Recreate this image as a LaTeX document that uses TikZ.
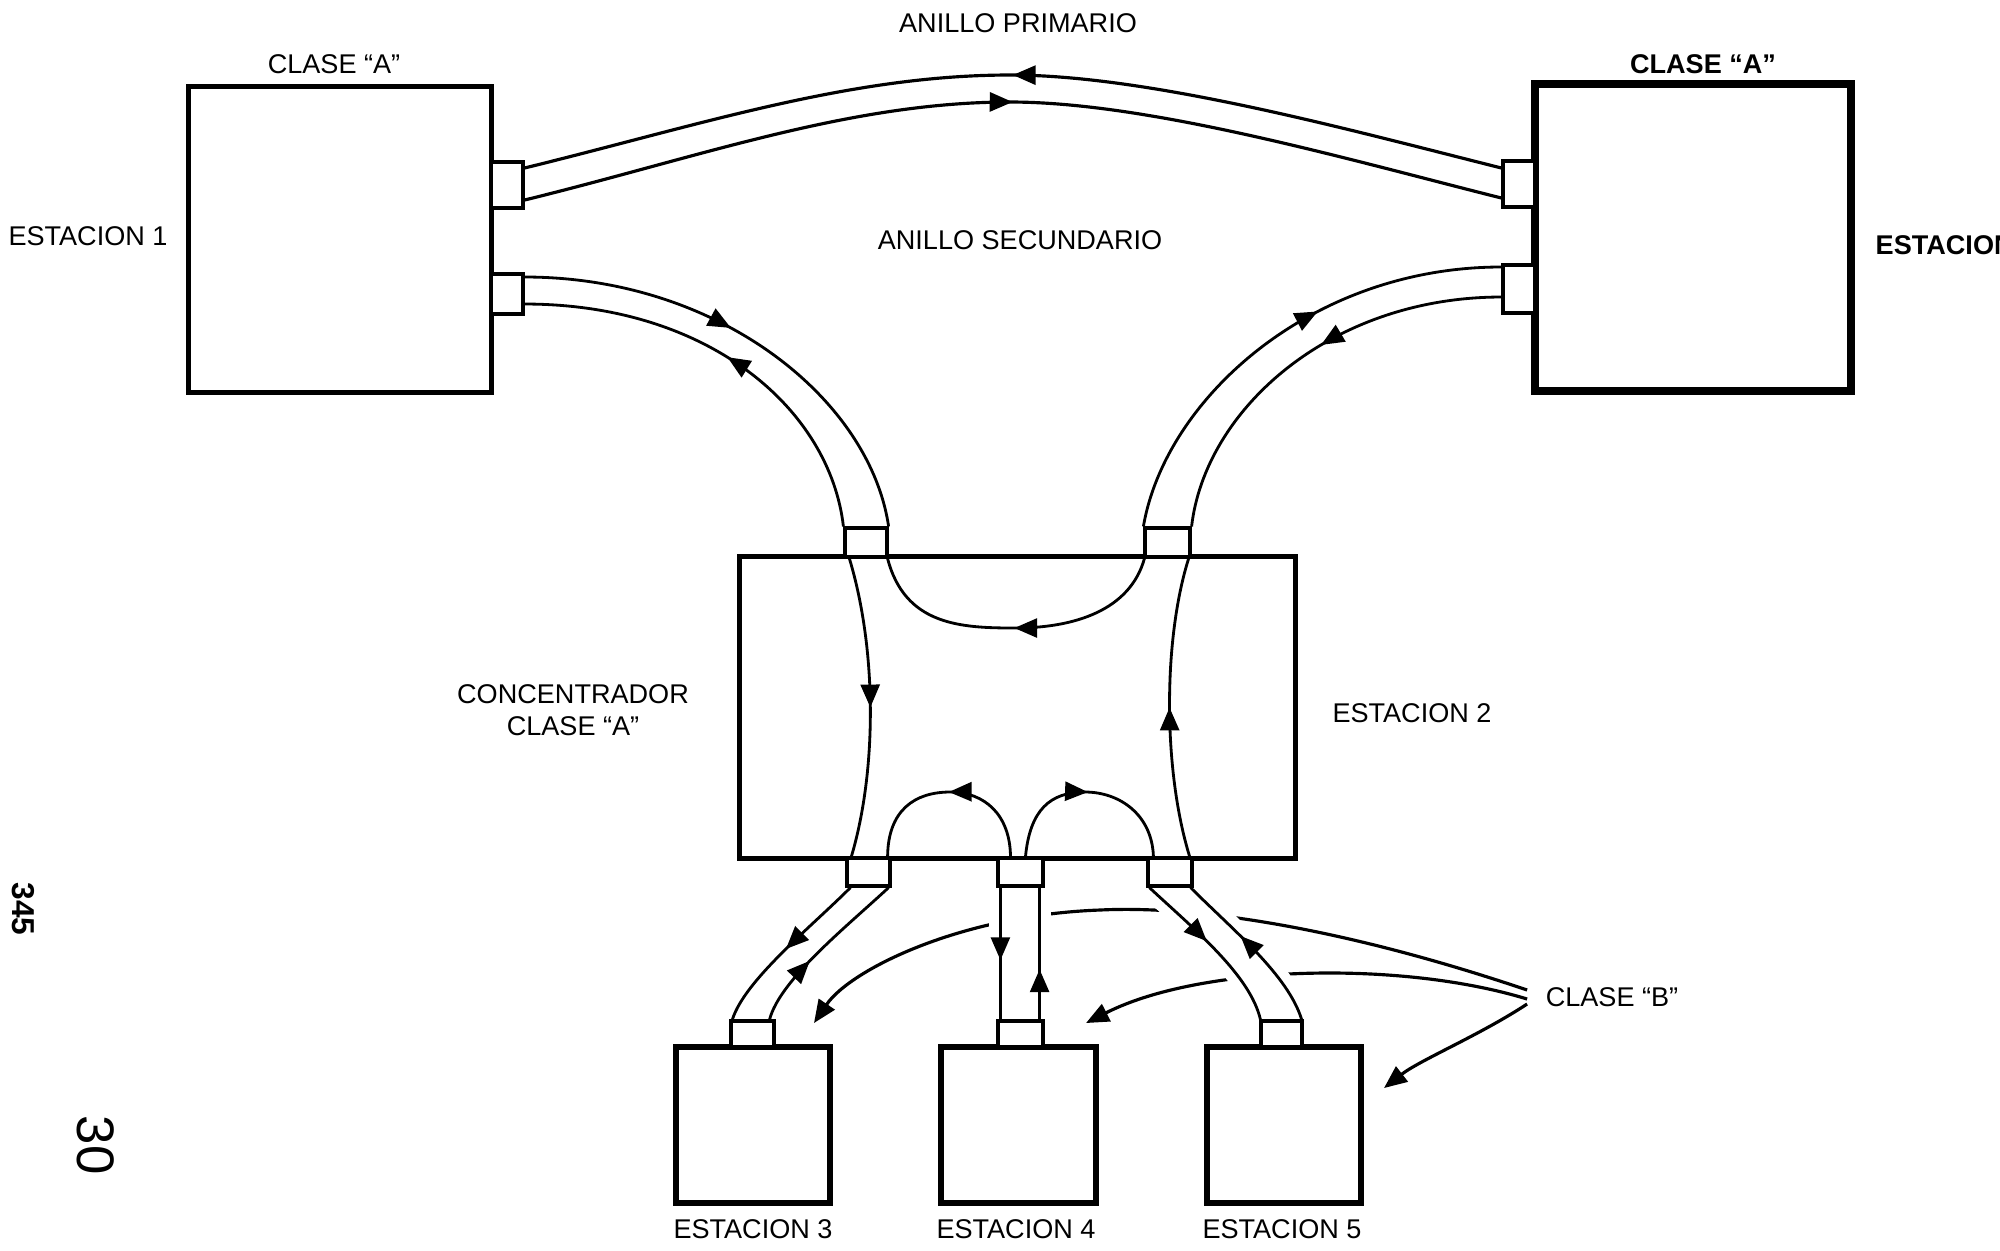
\documentclass[tikz,border=0pt]{standalone}
\usepackage{fontspec}
\setmainfont{Liberation Sans}
\usetikzlibrary{arrows.meta,decorations.markings}
\newcommand\lbfont{\fontsize{7.7}{9.1}\selectfont}
\pgfdeclarelayer{bgcurves}
\pgfdeclarelayer{bgwhite}
\pgfsetlayers{bgcurves,bgwhite,main}
\tikzset{
  box/.style={draw, line width=1.4pt, inner sep=0pt},
  portbox/.style={draw, fill=white, line width=0.9pt, inner sep=0pt},
  ring/.style={line width=0.9pt},
  tube/.style={line width=0.8pt},
  lbl/.style={font=\lbfont, inner sep=0pt, align=center},
  arrowat/.style={postaction={decorate}, decoration={markings, mark=at position #1 with {\arrow{Triangle[length=6.5pt,width=5.4pt]}}}},
  arrowback/.style={postaction={decorate}, decoration={markings, mark=at position #1 with {\arrowreversed{Triangle[length=6.5pt,width=5.4pt]}}}},
  pointer/.style={line width=0.9pt, -{Triangle[length=6.5pt,width=5.4pt]}},
  gapfill/.style={fill=white, draw=white, line width=0.22cm}
}
\begin{document}
\begin{tikzpicture}[x=0.01cm, y=-0.01cm]
\useasboundingbox (0,0) rectangle (2000,1250);
\clip (0,0) rectangle (2000,1250);

% ---------- boxes ----------
\node[box, minimum width=3.02cm, minimum height=3.05cm] (s1) at (340,239.5) {};
\node[box, line width=2.1pt, minimum width=3.16cm, minimum height=3.07cm] (s6) at (1693,237.5) {};
\node[box, minimum width=5.55cm, minimum height=3.01cm] (conc) at (1017.5,707.5) {};
\node[box, line width=1.6pt, minimum width=1.54cm, minimum height=1.56cm] (s3) at (753,1125) {};
\node[box, line width=1.6pt, minimum width=1.55cm, minimum height=1.56cm] (s4) at (1018.5,1125) {};
\node[box, line width=1.6pt, minimum width=1.54cm, minimum height=1.56cm] (s5) at (1284,1125) {};

% ---------- ports ----------
\node[portbox, minimum width=0.32cm, minimum height=0.46cm] (p1a) at (507,185) {};
\node[portbox, minimum width=0.32cm, minimum height=0.40cm] (p1b) at (507,294) {};
\node[portbox, minimum width=0.32cm, minimum height=0.46cm] (p6a) at (1519,184) {};
\node[portbox, minimum width=0.32cm, minimum height=0.48cm] (p6b) at (1519,289) {};
\node[portbox, minimum width=0.42cm, minimum height=0.29cm] (pct) at (866,542.5) {};
\node[portbox, minimum width=0.45cm, minimum height=0.29cm] (pcr) at (1167.5,542.5) {};
\node[portbox, minimum width=0.43cm, minimum height=0.28cm] (pb3) at (868.5,872) {};
\node[portbox, minimum width=0.45cm, minimum height=0.28cm] (pb4) at (1020.5,872) {};
\node[portbox, minimum width=0.44cm, minimum height=0.28cm] (pb5) at (1170,872) {};
\node[portbox, minimum width=0.43cm, minimum height=0.26cm] (ps3) at (752.5,1034) {};
\node[portbox, minimum width=0.45cm, minimum height=0.26cm] (ps4) at (1020.5,1034) {};
\node[portbox, minimum width=0.41cm, minimum height=0.26cm] (ps5) at (1281.5,1034) {};

% ---------- labels ----------
\node[lbl] (lclA1) at (334,64) {CLASE “A”};
\node[lbl] (lprim) at (1018,23) {ANILLO PRIMARIO};
\node[lbl, font=\lbfont\bfseries] (lclA6) at (1703,64) {CLASE “A”};
\node[lbl] (lest1) at (88,236) {ESTACION 1};
\node[lbl] (lsec) at (1020,240) {ANILLO SECUNDARIO};
\node[lbl, font=\lbfont\bfseries, anchor=west] (lest6) at (1875,245) {ESTACION};
\node[lbl] (lconc) at (573,710) {CONCENTRADOR\\CLASE “A”};
\node[lbl] (lest2) at (1412,713) {ESTACION 2};
\node[lbl] (lclB) at (1612,997) {CLASE “B”};
\node[lbl] (lest3) at (753,1229) {ESTACION 3};
\node[lbl] (lest4) at (1016,1229) {ESTACION 4};
\node[lbl] (lest5) at (1282,1229) {ESTACION 5};
\node[rotate=-90, font=\fontsize{9}{10}\selectfont\bfseries, inner sep=0pt] (lpg) at (23,909) {345};
\node[rotate=-90, font=\fontsize{15}{16}\selectfont, inner sep=0pt] (lnum) at (96,1145) {30};

% ---------- CLASE "B" pointers (behind the tubes) ----------
\coordinate (tip3) at (814,1023);
\coordinate (tip4) at (1086,1023);
\coordinate (tip5) at (1384,1088);
\begin{pgfonlayer}{bgcurves}
\draw[pointer] ([xshift=-0.18cm,yshift=0.07cm]lclB.west) .. controls (1350,930) and (1200,905) .. (1100,910) .. controls (960,915) and (850,970) .. (tip3);
\draw[pointer] ([xshift=-0.18cm,yshift=-0.02cm]lclB.west) .. controls (1400,960) and (1200,965) .. (tip4);
\draw[pointer] ([xshift=-0.18cm,yshift=-0.07cm]lclB.west) .. controls (1480,1035) and (1420,1060) .. (tip5);
\end{pgfonlayer}
\begin{pgfonlayer}{bgwhite}
\path[gapfill] ([xshift=0.04cm]pb4.south west) -- ([xshift=0.04cm]ps4.north west) -- ([xshift=-0.05cm]ps4.north east) -- ([xshift=-0.05cm]pb4.south east) -- cycle;
\path[gapfill] ([xshift=0.03cm]pb5.south west) .. controls (1195,930) and (1250,975) .. ([xshift=0.01cm]ps5.north west) -- ([xshift=-0.02cm]ps5.north east) .. controls (1288,975) and (1233,930) .. ([xshift=-0.03cm]pb5.south east) -- cycle;
\end{pgfonlayer}

% ---------- primary ring ----------
\draw[ring, arrowback=0.5] ([yshift=0.17cm]p1a.east) .. controls (700,125) and (850,75) .. (1010,75) .. controls (1150,75) and (1350,130) .. ([yshift=0.16cm]p6a.west);
\draw[ring, arrowat=0.5] ([yshift=-0.15cm]p1a.east) .. controls (700,157) and (850,102) .. (1010,102) .. controls (1150,102) and (1350,160) .. ([yshift=-0.14cm]p6a.west);

% ---------- secondary ring ----------
\draw[tube, arrowat=0.45] ([yshift=0.17cm]p1b.east) .. controls (720,277) and (870,400) .. (pct.north east);
\draw[tube, arrowback=0.5] ([yshift=-0.10cm]p1b.east) .. controls (710,304) and (830,410) .. (pct.north west);
\draw[tube, arrowback=0.4] ([yshift=0.22cm]p6b.west) .. controls (1310,267) and (1165,400) .. (pcr.north west);
\draw[tube, arrowat=0.45] ([yshift=-0.08cm]p6b.west) .. controls (1330,297) and (1205,410) .. (pcr.north east);

% ---------- inside the concentrator ----------
\draw[tube, arrowat=0.5] ([xshift=0.06cm]pct.south west) .. controls (877,650) and (877,770) .. ([xshift=0.06cm]pb3.north west);
\draw[tube, arrowback=0.5] ([xshift=-0.01cm]pct.south east) .. controls (905,625) and (960,628) .. (1015,628) .. controls (1075,628) and (1130,610) .. ([xshift=0.01cm]pcr.south west);
\draw[tube, arrowat=0.5] ([xshift=-0.04cm]pb5.north east) .. controls (1163,770) and (1163,640) .. ([xshift=-0.03cm]pcr.south east);
\draw[tube, arrowback=0.5] ([xshift=-0.04cm]pb3.north east) .. controls (888,810) and (915,792) .. (950,792) .. controls (985,792) and (1010,815) .. ([xshift=-0.10cm]pb4.north);
\draw[tube, arrowat=0.5] ([xshift=0.05cm]pb4.north) .. controls (1030,810) and (1050,792) .. (1085,792) .. controls (1120,792) and (1152,815) .. ([xshift=0.07cm]pb5.north west);

% ---------- tubes to stations 3, 4, 5 ----------
\draw[tube, arrowat=0.5] ([xshift=0.05cm]pb3.south west) .. controls (810,928) and (745,980) .. ([xshift=0.03cm]ps3.north west);
\draw[tube, arrowback=0.6] ([xshift=-0.03cm]pb3.south east) .. controls (845,928) and (780,980) .. ([xshift=-0.06cm]ps3.north east);
\draw[tube, arrowat=0.55] ([xshift=0.04cm]pb4.south west) -- ([xshift=0.04cm]ps4.north west);
\draw[tube, arrowback=0.62] ([xshift=-0.05cm]pb4.south east) -- ([xshift=-0.05cm]ps4.north east);
\draw[tube, arrowat=0.45] ([xshift=0.03cm]pb5.south west) .. controls (1195,930) and (1250,975) .. ([xshift=0.01cm]ps5.north west);
\draw[tube, arrowback=0.4] ([xshift=-0.03cm]pb5.south east) .. controls (1233,930) and (1288,975) .. ([xshift=-0.02cm]ps5.north east);
\end{tikzpicture}
\end{document}
